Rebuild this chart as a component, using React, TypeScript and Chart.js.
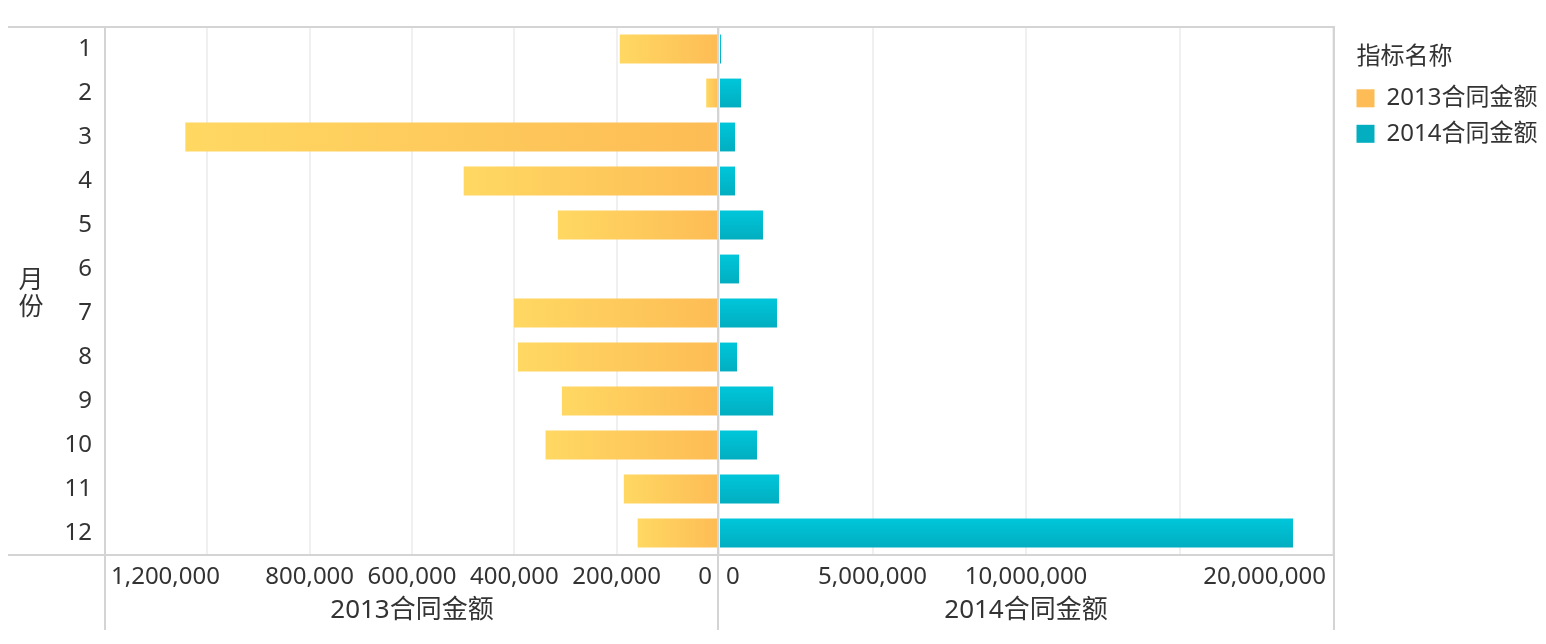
import { useEffect, useRef } from 'react';
import { Chart, registerables } from 'chart.js';

Chart.register(...registerables);

// ---- data ----
const months = ['1', '2', '3', '4', '5', '6', '7', '8', '9', '10', '11', '12'];
const amount2013 = [194000, 25000, 1043000, 499000, 315000, 0, 401000, 393000, 307000, 339000, 186000, 159000];
const amount2014 = [65000, 717000, 521000, 521000, 1433000, 651000, 1889000, 586000, 1759000, 1238000, 1954000, 18697000];
const series2013Label = '2013合同金额';
const series2014Label = '2014合同金额';
const legendTitle = '指标名称';
const yAxisTitleChars = ['月', '份'];
const ticks2013Shown = [0, 200000, 400000, 600000, 800000, 1200000];
const ticks2014Shown = [0, 5000000, 10000000, 20000000];

const FONT = "'Noto Sans', 'Noto Sans CJK SC', sans-serif";
const TEXT = '#333333';
const C2013 = '#FFBE50';
const C2014 = '#00B4C6';

const fmt = (v: number) => String(v).replace(/\B(?=(\d{3})+(?!\d))/g, ',');

const tickCb = (shown: number[]) => (value: any) => {
  const v = Number(value);
  return shown.includes(v) ? fmt(v) : '';
};

const grad2013 = (c: any) => {
  if (c.type !== 'data') return C2013;
  const chart = c.chart;
  if (!chart.chartArea || !chart.scales.x2013) return C2013;
  const sc = chart.scales.x2013;
  const x0 = sc.getPixelForValue(0);
  const x1 = sc.getPixelForValue(c.raw || 0);
  if (!isFinite(x0) || !isFinite(x1) || Math.abs(x0 - x1) < 1) return '#FDBD55';
  const g = chart.ctx.createLinearGradient(x1, 0, x0, 0);
  g.addColorStop(0, '#FFD862');
  g.addColorStop(1, '#FDBC55');
  return g;
};

const grad2014 = (c: any) => {
  if (c.type !== 'data') return C2014;
  const chart = c.chart;
  if (!chart.chartArea || !chart.scales.y) return C2014;
  const ys = chart.scales.y;
  const yc = ys.getPixelForValue(c.dataIndex);
  const h = (ys.height / months.length) * 0.8 * 0.82 / 2;
  if (!isFinite(yc)) return C2014;
  const g = chart.ctx.createLinearGradient(0, yc - h, 0, yc + h);
  g.addColorStop(0, '#00C6DA');
  g.addColorStop(1, '#02AEC0');
  return g;
};

const LEGEND_PAD = 11.5;

// place the legend block next to the plot frame, title aligned with the swatches
const legendPlace = {
  id: 'legendPlace',
  afterLayout(chart: any) {
    const lg = chart.legend;
    if (lg && chart.chartArea) {
      lg.left = chart.chartArea.right + 12;
      lg.right = lg.left + lg.width;
      if (!lg.__titlePatched) {
        const name = typeof lg.drawTitle === 'function' ? 'drawTitle' : '_drawTitle';
        const orig = lg[name];
        if (typeof orig === 'function') {
          lg[name] = function (this: any, ...args: any[]) {
            this.ctx.save();
            this.ctx.translate(LEGEND_PAD, 0);
            const r = orig.apply(this, args);
            this.ctx.restore();
            return r;
          };
          lg.__titlePatched = true;
        }
      }
    }
  },
};

// keep the outermost tick labels of each value axis inside their panel
const edgeLabels = {
  id: 'edgeLabels',
  beforeDraw(chart: any) {
    ['x2013', 'x2014'].forEach((id) => {
      const sc = chart.scales[id];
      if (!sc || !sc.getLabelItems) return;
      const items = sc.getLabelItems(chart.chartArea).filter((it: any) => it.label !== '');
      if (!items.length) return;
      let lo = items[0];
      let hi = items[0];
      items.forEach((it: any) => {
        if (it.options.translation[0] < lo.options.translation[0]) lo = it;
        if (it.options.translation[0] > hi.options.translation[0]) hi = it;
      });
      lo.options.textAlign = 'left';
      lo.options.translation[0] = sc.left + (id === 'x2013' ? 6 : 7);
      hi.options.textAlign = 'right';
      hi.options.translation[0] = sc.right - 7;
    });
  },
};

const frame = {
  id: 'frame',
  afterDraw(chart: any) {
    const { ctx, chartArea: ca, height } = chart;
    const x13 = chart.scales.x2013;
    ctx.save();
    ctx.strokeStyle = '#d4d4d4';
    ctx.lineWidth = 2;
    ctx.beginPath();
    ctx.moveTo(0, ca.top);
    ctx.lineTo(ca.right + 2, ca.top);
    ctx.moveTo(0, ca.bottom);
    ctx.lineTo(ca.right + 2, ca.bottom);
    ctx.moveTo(ca.left, ca.top);
    ctx.lineTo(ca.left, height);
    ctx.moveTo(ca.right + 1, ca.top);
    ctx.lineTo(ca.right + 1, height);
    ctx.moveTo(x13.right - 1, ca.top);
    ctx.lineTo(x13.right - 1, height);
    ctx.stroke();

    ctx.fillStyle = TEXT;
    ctx.font = `25px ${FONT}`;
    ctx.textAlign = 'center';
    ctx.textBaseline = 'middle';
    const cy = (ca.top + ca.bottom) / 2 + 3.5;
    const lh = 27;
    yAxisTitleChars.forEach((ch, i) => {
      ctx.fillText(ch, 23, cy + (i - (yAxisTitleChars.length - 1) / 2) * lh);
    });
    ctx.restore();
  },
};

export default function App() {
  const ref = useRef<HTMLCanvasElement>(null);

  useEffect(() => {
    const canvas = ref.current;
    if (!canvas) return;
    Chart.defaults.font.family = FONT;
    Chart.defaults.color = TEXT;

    const chart = new Chart(canvas, {
      type: 'bar',
      data: {
        labels: months,
        datasets: [
          {
            label: series2013Label,
            data: amount2013,
            xAxisID: 'x2013',
            yAxisID: 'y',
            backgroundColor: grad2013 as any,
            borderWidth: 0,
            grouped: false,
            barPercentage: 0.82,
            categoryPercentage: 0.8,
          },
          {
            label: series2014Label,
            data: amount2014,
            xAxisID: 'x2014',
            yAxisID: 'y',
            backgroundColor: grad2014 as any,
            borderWidth: 0,
            grouped: false,
            barPercentage: 0.82,
            categoryPercentage: 0.8,
          },
        ],
      },
      options: {
        animation: false,
        responsive: true,
        maintainAspectRatio: false,
        indexAxis: 'y',
        layout: { padding: { top: 19, right: 10, bottom: 0, left: 0 } },
        plugins: {
          legend: {
            position: 'right',
            align: 'start',
            maxWidth: 195,
            title: {
              display: true,
              text: legendTitle,
              color: TEXT,
              font: { size: 24 },
              padding: { top: 18, bottom: 1 },
              position: 'start',
            } as any,
            labels: {
              boxWidth: 18,
              boxHeight: 18,
              padding: LEGEND_PAD,
              color: TEXT,
              font: { size: 24 },
            },
          },
          tooltip: { enabled: false },
        },
        scales: {
          y: {
            type: 'category',
            position: 'left',
            grid: { display: false, drawTicks: false },
            border: { display: false },
            ticks: { color: TEXT, font: { size: 24 }, padding: 13 },
            afterFit: (s: any) => {
              s.width = 97;
              s.paddingTop = 0;
              s.paddingBottom = 0;
            },
          },
          x2013: {
            type: 'linear',
            axis: 'x',
            position: 'bottom',
            stack: 'x',
            stackWeight: 1,
            reverse: true,
            min: 0,
            max: 1200000,
            grid: { color: '#f0f0f0', lineWidth: 2, drawTicks: false },
            border: { display: false },
            ticks: {
              stepSize: 200000,
              autoSkip: false,
              maxRotation: 0,
              padding: 8,
              color: TEXT,
              font: { size: 24 },
              callback: tickCb(ticks2013Shown),
            },
            title: { display: true, text: series2013Label, color: TEXT, font: { size: 26 } },
            afterFit: (s: any) => {
              s.height = 75;
              s.paddingLeft = 0;
              s.paddingRight = 0;
            },
          } as any,
          x2014: {
            type: 'linear',
            axis: 'x',
            position: 'bottom',
            stack: 'x',
            stackWeight: 1,
            min: 0,
            max: 20000000,
            grid: { color: '#f0f0f0', lineWidth: 2, drawTicks: false },
            border: { display: false },
            ticks: {
              stepSize: 5000000,
              autoSkip: false,
              maxRotation: 0,
              padding: 8,
              color: TEXT,
              font: { size: 24 },
              callback: tickCb(ticks2014Shown),
            },
            title: { display: true, text: series2014Label, color: TEXT, font: { size: 26 } },
            afterFit: (s: any) => {
              s.height = 75;
              s.paddingLeft = 0;
              s.paddingRight = 0;
            },
          } as any,
        },
      },
      plugins: [legendPlace, edgeLabels, frame],
    });

    return () => chart.destroy();
  }, []);

  return (
    <div style={{ position: 'relative', width: 1530, height: 622 }}>
      <canvas ref={ref} />
    </div>
  );
}
